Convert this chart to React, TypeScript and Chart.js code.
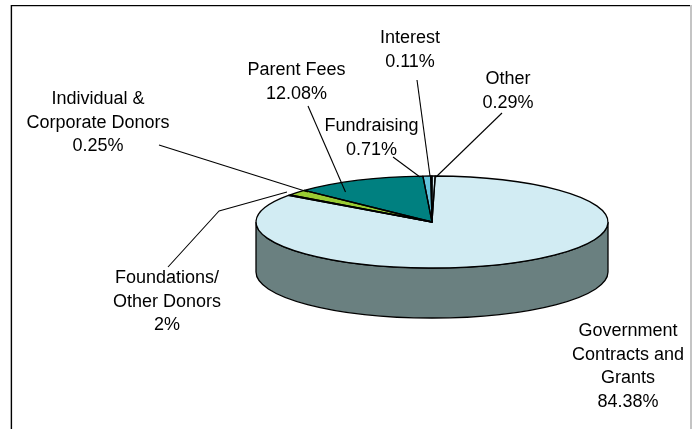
import { useEffect, useRef } from "react";
import { Chart, registerables } from "chart.js";

Chart.register(...registerables);

const categories = ["Government Contracts and Grants", "Individual & Corporate Donors", "Foundations/ Other Donors", "Parent Fees", "Fundraising", "Interest", "Other"];
const values = [84.38, 0.25, 2, 12.08, 0.71, 0.11, 0.29];
const sliceColors = ["#D2ECF3", "#000000", "#99CC33", "#008080", "#66C5DC", "#660066", "#D2ECF3"];
const wallColors = ["#6A8080", "#000000", "#5C7A20", "#004D4D", "#3D7684", "#3D003D", "#6A8080"];

const labelLines = [
  ["Government", "Contracts and", "Grants", "84.38%"],
  ["Individual &", "Corporate Donors", "0.25%"],
  ["Foundations/", "Other Donors", "2%"],
  ["Parent Fees", "12.08%"],
  ["Fundraising", "0.71%"],
  ["Interest", "0.11%"],
  ["Other", "0.29%"],
];
const labelAnchors = [
  [628, 331], [98, 99], [167, 278], [296.5, 70], [371.5, 126], [410, 38], [508, 79],
];
const leaders: number[][][] = [
  [],
  [[159, 145], [308, 192]],
  [[168, 267], [219, 211], [287, 192]],
  [[308, 106], [345.5, 192]],
  [[393, 157], [420, 177]],
  [[417, 80], [430, 176]],
  [[502, 113], [436, 177]],
];

const CX = 432, TOP_CY = 222, RY = 46, DEPTH = 50, RX = 176;
const LINE_HEIGHT = 23.6;
const OUTLINE = 1.3;

const pie3d = {
  id: "pie3d",
  beforeDatasetsDraw(chart: any) {
    const { ctx } = chart;
    const arcs = chart.getDatasetMeta(0).data;
    const sy = RY / arcs[0].outerRadius;
    // frame
    ctx.save();
    ctx.lineWidth = 2;
    ctx.strokeStyle = "#c4c4c4";
    ctx.beginPath();
    ctx.moveTo(11, 429); ctx.lineTo(11, 6); ctx.lineTo(691, 6); ctx.lineTo(691, 429);
    ctx.stroke();
    ctx.lineWidth = 1.2;
    ctx.strokeStyle = "#000";
    ctx.beginPath();
    ctx.moveTo(11.5, 429); ctx.lineTo(11.5, 5.5); ctx.lineTo(690, 5.5);
    ctx.stroke();
    // side wall of the slices that face the viewer
    arcs.forEach((arc: any, i: number) => {
      const a0 = Math.max(arc.startAngle, 0);
      const a1 = Math.min(arc.endAngle, Math.PI);
      if (a1 <= a0) return;
      const r = arc.outerRadius;
      ctx.beginPath();
      ctx.ellipse(arc.x, TOP_CY, r, r * sy, 0, a0, a1);
      ctx.ellipse(arc.x, TOP_CY + DEPTH, r, r * sy, 0, a1, a0, true);
      ctx.closePath();
      ctx.fillStyle = wallColors[i];
      ctx.fill();
      ctx.lineWidth = OUTLINE;
      ctx.strokeStyle = "#000";
      ctx.stroke();
    });
    ctx.restore();
    // flatten the disc the library draws
    const cy = arcs[0].y;
    ctx.save();
    ctx.translate(0, TOP_CY);
    ctx.scale(1, sy);
    ctx.translate(0, -cy);
  },
  afterDatasetsDraw(chart: any) {
    const { ctx } = chart;
    ctx.restore();
    const arcs = chart.getDatasetMeta(0).data;
    const sy = RY / arcs[0].outerRadius;
    ctx.save();
    ctx.lineWidth = OUTLINE;
    ctx.strokeStyle = "#000";
    ctx.lineJoin = "round";
    arcs.forEach((arc: any) => {
      const r = arc.outerRadius;
      ctx.beginPath();
      ctx.moveTo(arc.x, TOP_CY);
      ctx.ellipse(arc.x, TOP_CY, r, r * sy, 0, arc.startAngle, arc.endAngle);
      ctx.closePath();
      ctx.stroke();
    });
    // leaders
    ctx.lineWidth = 1.1;
    leaders.forEach((pts) => {
      if (!pts.length) return;
      ctx.beginPath();
      pts.forEach(([x, y], k) => (k ? ctx.lineTo(x, y) : ctx.moveTo(x, y)));
      ctx.stroke();
    });
    // labels
    ctx.fillStyle = "#000";
    ctx.font = '18px "Liberation Sans", Arial, sans-serif';
    ctx.textAlign = "center";
    ctx.textBaseline = "middle";
    labelLines.forEach((lines, i) => {
      const [x, y] = labelAnchors[i];
      lines.forEach((t, k) => ctx.fillText(t, x, y + k * LINE_HEIGHT));
    });
    ctx.restore();
  },
};

export default function App() {
  const ref = useRef<HTMLCanvasElement>(null);
  useEffect(() => {
    const chart = new Chart(ref.current!, {
      type: "pie",
      data: {
        labels: categories,
        datasets: [{ data: values, backgroundColor: sliceColors, borderWidth: 0, clip: false } as any],
      },
      options: {
        responsive: false,
        animation: false,
        events: [],
        rotation: 1.04,
        layout: { padding: { left: CX - RX, right: 692 - CX - RX, top: 0, bottom: 429 - 2 * RX } },
        plugins: { legend: { display: false }, tooltip: { enabled: false } },
      },
      plugins: [pie3d],
    } as any);
    return () => chart.destroy();
  }, []);
  return (
    <canvas
      ref={ref}
      width={692}
      height={429}
      style={{ position: "fixed", left: 0, top: 0, width: 692, height: 429, background: "#fff" }}
    />
  );
}
